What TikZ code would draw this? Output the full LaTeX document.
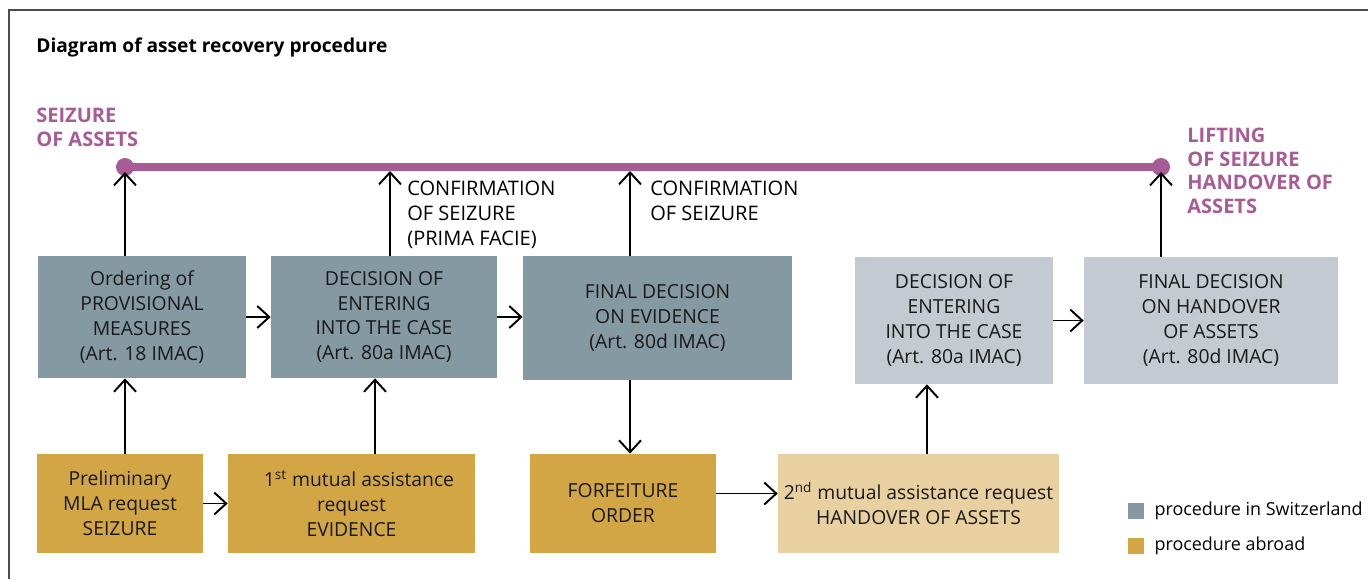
\documentclass[tikz,border=0pt]{standalone}
\usepackage{fontspec}
\setmainfont{Open Sans}
\usetikzlibrary{arrows.meta}
\definecolor{swiss}{HTML}{8599A3}
\definecolor{swisslt}{HTML}{C3CAD1}
\definecolor{abroad}{HTML}{D2A645}
\definecolor{abroadlt}{HTML}{E8D0A0}
\definecolor{seizecol}{HTML}{A85C96}
\begin{document}
\begin{tikzpicture}[x=0.02cm,y=-0.02cm,
  font=\fontsize{11}{14.2}\selectfont,
  box/.style={inner sep=0pt,align=center,text=black!90},
  mark label/.style={anchor=north west,inner sep=0pt,align=left,text=seizecol,
    font=\fontsize{11.4}{13.4}\selectfont\bfseries},
  legend/.style={fill=#1,inner sep=0pt,minimum size=0.32cm},
  arr/.style={line width=1.1pt,-{Straight Barb[length=2.4mm,width=4.4mm]}}]
  \useasboundingbox (0,0) rectangle (1368,579);
  \draw[black!70,line width=0.8pt] (9,579) -- (9,10) -- (1368,10);
  \node (title) [anchor=base west,inner sep=0pt,font=\fontsize{10.9}{14}\selectfont\bfseries] at (36,52) {Diagram of asset recovery procedure};
  % the seizure line
  \coordinate (seize) at (125,167);
  \coordinate (lift) at (1161,167);
  \coordinate (conf1) at (390,171);
  \coordinate (conf2) at (630,171);
  \draw[seizecol,line width=4pt] (seize) -- (lift);
  \fill[seizecol] (seize) circle (0.18cm) (lift) circle (0.18cm);
  \node (seizelbl) [mark label] at (36,108) {SEIZURE\\OF ASSETS};
  \node (liftlbl) [mark label] at (1187,128) {LIFTING\\OF SEIZURE\\HANDOVER OF\\ASSETS};
  \node (conflbl1) [anchor=north west,inner sep=0pt,align=left,font=\fontsize{11.4}{14.2}\selectfont] at (407,181) {CONFIRMATION\\OF SEIZURE\\(PRIMA FACIE)};
  \node (conflbl2) [anchor=north west,inner sep=0pt,align=left,font=\fontsize{11.4}{14.2}\selectfont] at (650,181) {CONFIRMATION\\OF SEIZURE};
  % procedure in Switzerland
  \node (ordering) [box,fill=swiss,minimum width=4.16cm,minimum height=2.44cm] at (142,317)
    {Ordering of\\PROVISIONAL\\MEASURES\\(Art. 18 IMAC)};
  \node (entering) [box,fill=swiss,minimum width=4.52cm,minimum height=2.44cm] at (384,317)
    {DECISION OF\\ENTERING\\INTO THE CASE\\(Art. 80a IMAC)};
  \node (finalev) [box,fill=swiss,minimum width=5.38cm,minimum height=2.48cm] at (657.5,318)
    {FINAL DECISION\\ON EVIDENCE\\(Art. 80d IMAC)};
  \node (entdec) [box,fill=swisslt,minimum width=3.96cm,minimum height=2.54cm] at (954,320.5)
    {DECISION OF\\ENTERING\\INTO THE CASE\\(Art. 80a IMAC)};
  \node (handover) [box,fill=swisslt,minimum width=5.08cm,minimum height=2.54cm] at (1211,320.5)
    {FINAL DECISION\\ON HANDOVER\\OF ASSETS\\(Art. 80d IMAC)};
  % procedure abroad
  \node (prelim) [box,fill=abroad,minimum width=3.32cm,minimum height=1.98cm] at (120,503.5)
    {Preliminary\\MLA request\\SEIZURE};
  \node (evidreq) [box,fill=abroad,minimum width=4.94cm,minimum height=1.98cm] at (351.5,503.5)
    {\hspace*{0.3cm}1\textsuperscript{st} mutual assistance\\request\\EVIDENCE};
  \node (forfeit) [box,fill=abroad,minimum width=3.72cm,minimum height=1.98cm] at (623,503.5)
    {FORFEITURE\\ORDER};
  \node (handreq) [box,fill=abroadlt,minimum width=5.62cm,minimum height=1.98cm] at (918.5,503.5)
    {2\textsuperscript{nd} mutual assistance request\\HANDOVER OF ASSETS};
  % legend
  \node (legsw) [legend=swiss,label={[label distance=0.08cm,font=\fontsize{10.2}{12}\selectfont]right:procedure in Switzerland}] at (1136,511) {};
  \node (legab) [legend=abroad,label={[label distance=0.08cm,font=\fontsize{10.2}{12}\selectfont]right:procedure abroad}] at (1136,545.5) {};
  % connectors
  \draw[arr] (ordering.north -| seize) -- ([yshift=-0.1cm]seize);
  \draw[arr] (entering.north -| conf1) -- (conf1);
  \draw[arr] (finalev.north -| conf2) -- (conf2);
  \draw[arr] (handover.north -| lift) -- ([yshift=-0.1cm]lift);
  \draw[arr] (ordering.east) -- (entering.west);
  \draw[arr] (entering.east) -- (entering.east -| finalev.west);
  \draw[arr] (entdec.east) -- (handover.west);
  \draw[arr] (prelim.east) -- (evidreq.west);
  \draw[arr] ([yshift=0.2cm]forfeit.east) -- ([yshift=0.2cm]forfeit.east -| handreq.west);
  \draw[arr] (prelim.north -| seize) -- (ordering.south -| seize);
  \draw[arr] ([xshift=0.47cm]evidreq.north) -- ([xshift=0.47cm]evidreq.north |- entering.south);
  \draw[arr] (finalev.south -| conf2) -- (forfeit.north -| conf2);
  \draw[arr] ([xshift=0.17cm]handreq.north) -- ([xshift=0.17cm]handreq.north |- entdec.south);
\end{tikzpicture}
\end{document}
